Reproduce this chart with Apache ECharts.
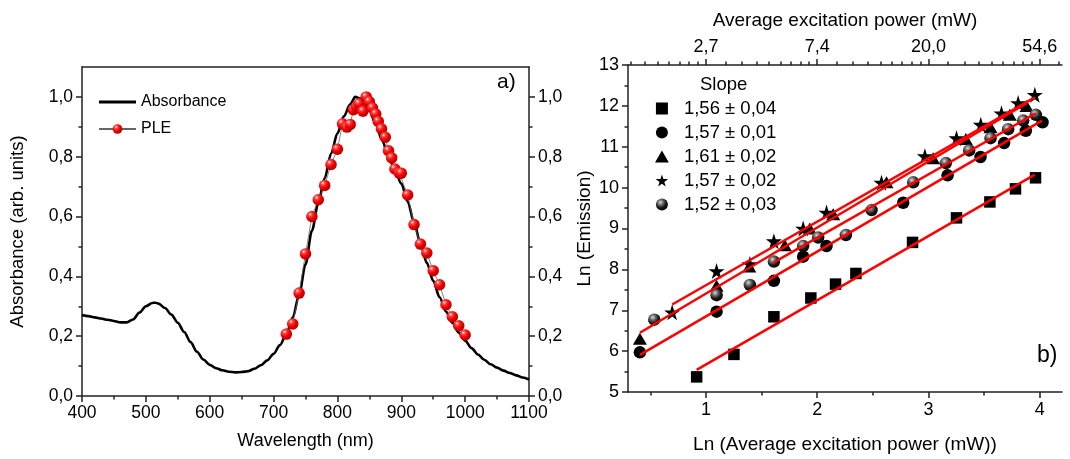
<!DOCTYPE html>
<html><head><meta charset="utf-8">
<script src="https://cdn.jsdelivr.net/npm/echarts@6/dist/echarts.min.js"></script>
<style>html,body{margin:0;padding:0;background:#fff}#c{width:1070px;height:459px}</style>
</head><body><div id="c"></div>
<script>
// ---- Panel a) data ----
const wavelength = [400,410,420,430,440,450,460,470,480,490,500,510,515,520,530,540,550,560,570,580,590,600,610,620,630,640,650,660,670,680,690,700,710,720,730,740,750,760,770,780,790,800,810,820,828,835,840,850,860,870,880,890,900,910,920,930,940,950,960,970,980,990,1000,1010,1020,1030,1040,1050,1060,1070,1080,1090,1100];
const absorbance = [0.271,0.267,0.263,0.259,0.255,0.251,0.246,0.246,0.256,0.279,0.300,0.311,0.312,0.309,0.294,0.272,0.245,0.214,0.180,0.148,0.122,0.104,0.093,0.086,0.081,0.079,0.080,0.083,0.091,0.103,0.119,0.141,0.170,0.207,0.262,0.338,0.440,0.552,0.645,0.728,0.810,0.878,0.935,0.975,1.0,0.995,0.985,0.955,0.91,0.855,0.80,0.755,0.71,0.65,0.58,0.51,0.445,0.385,0.33,0.282,0.245,0.212,0.185,0.160,0.139,0.121,0.106,0.095,0.085,0.077,0.069,0.062,0.055];
const pleWavelength = [720,730,740,750,760,770,780,790,800,808,815,820,825,830,834,840,845,850,855,860,864,869,875,880,885,890,897,900,910,920,930,940,950,960,970,980,990,1000];
const pleIntensity = [0.207,0.241,0.344,0.475,0.600,0.656,0.704,0.774,0.825,0.910,0.899,0.908,0.957,0.968,0.977,0.952,1.0,0.984,0.963,0.943,0.918,0.893,0.865,0.820,0.796,0.759,0.745,0.745,0.672,0.573,0.508,0.478,0.419,0.372,0.305,0.265,0.235,0.204];
const yTicksA = [0,0.2,0.4,0.6,0.8,1.0];
const yMinorTicksA = [0.1,0.3,0.5,0.7,0.9];

// ---- Panel b) data (ln power, ln emission) ----
const sqX = [0.917,1.252,1.611,1.943,2.165,2.348,2.857,3.252,3.552,3.782,3.962];
const sqY = [5.37,5.92,6.84,7.30,7.64,7.90,8.66,9.26,9.65,9.97,10.24];
const circX = [0.407,1.096,1.611,1.874,2.084,2.773,3.172,3.468,3.680,3.875,4.025];
const circY = [5.97,6.965,7.72,8.31,8.57,9.63,10.30,10.75,11.09,11.39,11.60];
const triX = [0.407,1.096,1.390,1.710,1.934,2.144,2.623,3.042,3.336,3.558,3.731,3.881];
const triY = [6.30,7.60,8.07,8.59,9.00,9.35,10.13,10.72,11.19,11.48,11.78,12.00];
const starX = [0.697,1.096,1.395,1.611,1.874,2.084,2.578,2.968,3.252,3.470,3.656,3.806,3.956];
const starY = [6.95,7.96,8.13,8.69,9.00,9.39,10.12,10.77,11.21,11.54,11.82,12.07,12.27];
const sphX = [0.536,1.096,1.395,1.611,1.874,2.009,2.258,2.489,2.863,3.156,3.366,3.558,3.716,3.851,3.965];
const sphY = [6.77,7.37,7.62,8.19,8.57,8.78,8.84,9.45,10.13,10.60,10.91,11.21,11.43,11.64,11.78];
const fitSqX = [0.917,3.956],  fitSqY = [5.54,10.32];
const fitCircX = [0.407,4.02], fitCircY = [5.91,11.64];
const fitTriX = [0.407,3.886], fitTriY = [6.45,12.07];
const fitStarX = [0.697,3.956], fitStarY = [7.14,12.21];
const fitSphX = [1.611,3.965], fitSphY = [8.17,11.82];
const slopeLabels = ['1,56 ± 0,04','1,57 ± 0,01','1,61 ± 0,02','1,57 ± 0,02','1,52 ± 0,03'];
const bottomTicks = [1,2,3,4];
const bottomMinorTicks = [0.5,1.5,2.5,3.5];
const topTicks = [1,2,3,4];
const topTickLabels = ['2,7','7,4','20,0','54,6'];
const topMinorTicks = [0.323,0.453,0.567,0.670,0.763,0.849,0.927,1.175,1.323,1.453,1.567,1.670,1.763,1.849,1.927,2.175,2.323,2.453,2.567,2.670,2.763,2.849,2.927,3.175,3.323,3.453,3.567,3.670,3.763,3.849,3.927,4.175];

const zip = (a,b) => a.map((v,i)=>[v,b[i]]);
const FF = '"Liberation Sans", Arial, sans-serif';
const AX = {color:'#222', width:1.5};
const comma = v => v.toFixed(1).replace('.', ',');
const RG = echarts.graphic.RadialGradient;
const redBall = new RG(0.35,0.3,0.75,[{offset:0,color:'#ffffff'},{offset:0.2,color:'#ff4a4a'},{offset:0.55,color:'#f00000'},{offset:1,color:'#a80000'}]);
const greyBall = new RG(0.38,0.32,0.75,[{offset:0,color:'#dddddd'},{offset:0.25,color:'#7a7a7a'},{offset:0.6,color:'#1a1a1a'},{offset:1,color:'#000000'}]);
const starPath = 'path://M50,0 L61,35 L98,35 L68,57 L79,91 L50,70 L21,91 L32,57 L2,35 L39,35 Z';
const squarePath = 'path://M0,0 L10,0 L10,10 L0,10 Z';
const triPath = 'path://M6,0 L12,10.4 L0,10.4 Z';
const barPath = 'path://M0,0 L37,0 L37,3 L0,3 Z';

const chart = echarts.init(document.getElementById('c'), null, {renderer:'canvas'});
const noSplit = {show:false};
const blk = {color:'#000', opacity:1};
chart.setOption({
  animation:false,
  backgroundColor:'#fff',
  textStyle:{fontFamily:FF, color:'#000'},
  title:[
    {text:'a)', left:497, top:72, padding:0, textStyle:{fontSize:21, fontWeight:'normal', color:'#000', fontFamily:FF}},
    {text:'b)', left:1037, top:344, padding:0, textStyle:{fontSize:23, fontWeight:'normal', color:'#000', fontFamily:FF}},
    {text:'Slope', left:700, top:75, padding:0, textStyle:{fontSize:18.5, fontWeight:'normal', color:'#000', fontFamily:FF}}
  ],
  legend:[
    {data:[{name:'Absorbance', icon:barPath},'PLE'], orient:'vertical', left:93, top:89, itemWidth:37, itemHeight:12, itemGap:11,
     textStyle:{fontSize:16, lineHeight:16, color:'#000', fontFamily:FF}},
    {data:[{name:slopeLabels[0],icon:squarePath},{name:slopeLabels[1]},{name:slopeLabels[2],icon:triPath},{name:slopeLabels[3]},{name:slopeLabels[4]}],
     orient:'vertical', left:650, top:94, itemWidth:34, itemHeight:12, itemGap:5,
     textStyle:{fontSize:18.5, lineHeight:18.5, color:'#000', fontFamily:FF}}
  ],
  grid:[
    {left:82, top:67, width:447, height:329},
    {left:628, top:65, width:434, height:328}
  ],
  xAxis:[
    {gridIndex:0, type:'value', min:400, max:1100, interval:100, position:'bottom',
     axisLine:{show:true,onZero:false,lineStyle:AX}, axisTick:{show:true,length:6,lineStyle:AX},
     minorTick:{show:true,splitNumber:2,length:3.5,lineStyle:AX}, splitLine:noSplit, minorSplitLine:noSplit,
     axisLabel:{fontSize:17.5, margin:8, color:'#000', formatter:v=>String(v)},
     name:'Wavelength (nm)', nameLocation:'middle', nameGap:36, nameTextStyle:{fontSize:18, color:'#000'}},
    {gridIndex:0, type:'value', min:400, max:1100, position:'top',
     axisLine:{show:true,onZero:false,lineStyle:AX}, axisTick:{show:false}, axisLabel:{show:false}, splitLine:noSplit},
    {gridIndex:1, type:'value', min:0.3, max:4.2, position:'bottom',
     axisLine:{show:true,onZero:false,lineStyle:AX}, axisTick:{show:true,length:6,lineStyle:AX,customValues:bottomTicks},
     axisLabel:{fontSize:18, margin:9, color:'#000', customValues:bottomTicks, formatter:v=>String(Math.round(v))}, splitLine:noSplit,
     name:'Ln (Average excitation power (mW))', nameLocation:'middle', nameGap:43, nameTextStyle:{fontSize:19, color:'#000'}},
    {gridIndex:1, type:'value', min:0.3, max:4.2, position:'bottom',
     axisLine:{show:false}, axisTick:{show:true,length:3.5,lineStyle:AX,customValues:bottomMinorTicks},
     axisLabel:{show:false}, splitLine:noSplit},
    {gridIndex:1, type:'value', min:0.3, max:4.2, position:'top',
     axisLine:{show:true,onZero:false,lineStyle:AX}, axisTick:{show:true,length:6,lineStyle:AX,customValues:topTicks},
     axisLabel:{fontSize:18, margin:9, color:'#000', customValues:topTicks, formatter:v=>topTickLabels[topTicks.indexOf(Math.round(v))]}, splitLine:noSplit,
     name:'Average excitation power (mW)', nameLocation:'middle', nameGap:35, nameTextStyle:{fontSize:19, color:'#000'}},
    {gridIndex:1, type:'value', min:0.3, max:4.2, position:'top',
     axisLine:{show:false}, axisTick:{show:true,length:3.5,lineStyle:AX,customValues:topMinorTicks},
     axisLabel:{show:false}, splitLine:noSplit}
  ],
  yAxis:[
    {gridIndex:0, type:'value', min:0, max:1.1, position:'left',
     axisLine:{show:true,onZero:false,lineStyle:AX}, axisTick:{show:true,length:6,lineStyle:AX,customValues:yTicksA},
     axisLabel:{fontSize:17.5, margin:9, color:'#000', customValues:yTicksA, formatter:comma}, splitLine:noSplit,
     name:'Absorbance (arb. units)', nameLocation:'middle', nameGap:55, nameTextStyle:{fontSize:18.5, color:'#000'}},
    {gridIndex:0, type:'value', min:0, max:1.1, position:'left',
     axisLine:{show:false}, axisTick:{show:true,length:3.5,lineStyle:AX,customValues:yMinorTicksA},
     axisLabel:{show:false}, splitLine:noSplit},
    {gridIndex:0, type:'value', min:0, max:1.1, position:'right',
     axisLine:{show:true,onZero:false,lineStyle:AX}, axisTick:{show:true,length:6,lineStyle:AX,customValues:yTicksA},
     axisLabel:{fontSize:17.5, margin:9, color:'#000', customValues:yTicksA, formatter:comma}, splitLine:noSplit},
    {gridIndex:0, type:'value', min:0, max:1.1, position:'right',
     axisLine:{show:false}, axisTick:{show:true,length:3.5,lineStyle:AX,customValues:yMinorTicksA},
     axisLabel:{show:false}, splitLine:noSplit},
    {gridIndex:1, type:'value', min:5, max:13, interval:1, position:'left',
     axisLine:{show:true,onZero:false,lineStyle:AX}, axisTick:{show:true,length:6,lineStyle:AX},
     minorTick:{show:true,splitNumber:2,length:3.5,lineStyle:AX}, splitLine:noSplit, minorSplitLine:noSplit,
     axisLabel:{fontSize:18, margin:9, color:'#000'},
     name:'Ln (Emission)', nameLocation:'middle', nameGap:34, nameTextStyle:{fontSize:19, color:'#000'}}
  ],
  series:[
    {name:'Absorbance', type:'line', xAxisIndex:0, yAxisIndex:0, data:zip(wavelength,absorbance), smooth:0.3, smoothMonotone:'x',
     symbol:'none', lineStyle:{color:'#000', width:2.6}, itemStyle:{color:'#000'}, z:3},
    {name:'PLE', type:'line', xAxisIndex:0, yAxisIndex:0, data:zip(pleWavelength,pleIntensity),
     symbol:'circle', symbolSize:11.5, showSymbol:true, lineStyle:{color:'#666', width:0.8},
     itemStyle:{color:redBall, borderWidth:0, opacity:1}, z:4},
    {name:slopeLabels[0], type:'scatter', xAxisIndex:2, yAxisIndex:4, data:zip(sqX,sqY), symbol:'rect', symbolSize:11.5, itemStyle:blk},
    {name:slopeLabels[1], type:'scatter', xAxisIndex:2, yAxisIndex:4, data:zip(circX,circY), symbol:'circle', symbolSize:12.5, itemStyle:blk},
    {name:slopeLabels[2], type:'scatter', xAxisIndex:2, yAxisIndex:4, data:zip(triX,triY), symbol:'triangle', symbolSize:[14,12], itemStyle:blk},
    {name:slopeLabels[3], type:'scatter', xAxisIndex:2, yAxisIndex:4, data:zip(starX,starY), symbol:starPath, symbolSize:16, itemStyle:blk},
    {name:slopeLabels[4], type:'scatter', xAxisIndex:2, yAxisIndex:4, data:zip(sphX,sphY), symbol:'circle', symbolSize:12.5, itemStyle:{color:greyBall, opacity:1}},
    {name:'fit1', type:'line', xAxisIndex:2, yAxisIndex:4, data:zip(fitSqX,fitSqY), symbol:'none', lineStyle:{color:'#ff0000', width:2.5}, z:5},
    {name:'fit2', type:'line', xAxisIndex:2, yAxisIndex:4, data:zip(fitCircX,fitCircY), symbol:'none', lineStyle:{color:'#ff0000', width:2.5}, z:5},
    {name:'fit3', type:'line', xAxisIndex:2, yAxisIndex:4, data:zip(fitTriX,fitTriY), symbol:'none', lineStyle:{color:'#ff0000', width:2.5}, z:5},
    {name:'fit4', type:'line', xAxisIndex:2, yAxisIndex:4, data:zip(fitStarX,fitStarY), symbol:'none', lineStyle:{color:'#ff0000', width:2.5}, z:5},
    {name:'fit5', type:'line', xAxisIndex:2, yAxisIndex:4, data:zip(fitSphX,fitSphY), symbol:'none', lineStyle:{color:'#ff0000', width:2.5}, z:5}
  ]
});
</script></body></html>
